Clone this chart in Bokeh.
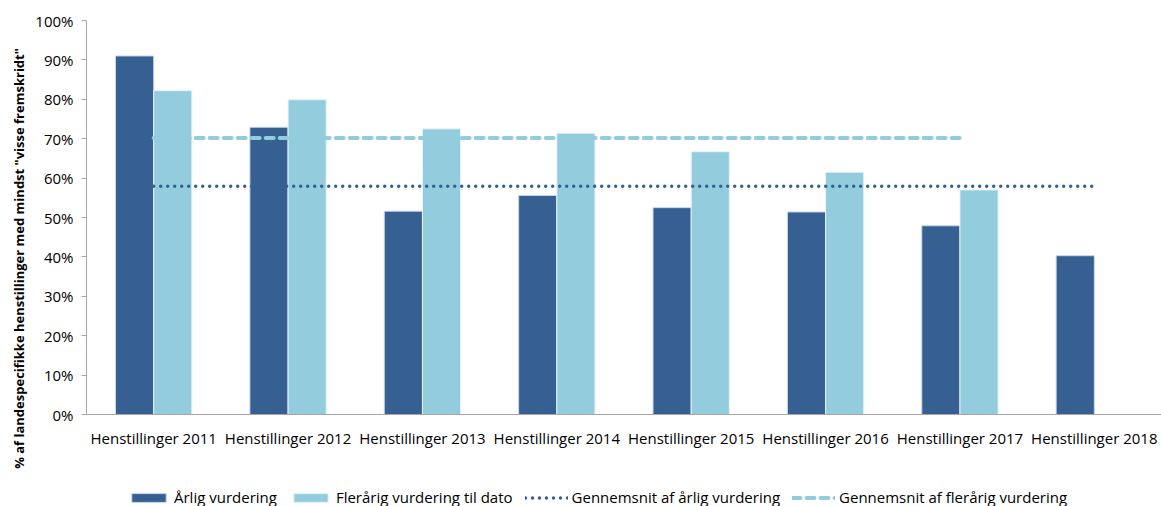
from math import pi
from bokeh.plotting import figure
from bokeh.layouts import row, column
from bokeh.models import (FactorRange, Range1d, ColumnDataSource, Legend, LegendItem,
                          Label, PrintfTickFormatter, FixedTicker)
from bokeh.transform import dodge
from bokeh.embed import file_html
from bokeh.resources import INLINE

categories = ["Henstillinger 2011", "Henstillinger 2012", "Henstillinger 2013",
              "Henstillinger 2014", "Henstillinger 2015", "Henstillinger 2016",
              "Henstillinger 2017", "Henstillinger 2018"]
annual = [91.0, 72.9, 51.6, 55.6, 52.5, 51.4, 47.9, 40.3]
multi_categories = categories[:7]
multi = [82.2, 79.9, 72.5, 71.4, 66.7, 61.5, 57.0]
avg_annual = [57.9, 57.9, 57.9, 57.9, 57.9, 57.9, 57.9, 57.9]
avg_multi = [70.2, 70.2, 70.2, 70.2, 70.2, 70.2, 70.2]
y_ticks = [0, 10, 20, 30, 40, 50, 60, 70, 80, 90, 100]
y_title = '% af landespecifikke henstillinger med mindst "visse fremskridt"'
series_names = ["Årlig vurdering", "Flerårig vurdering til dato",
                "Gennemsnit af årlig vurdering", "Gennemsnit af flerårig vurdering"]

DARK = "#376092"
LIGHT = "#93CDDD"
FONT = "Open Sans"
FS = "15px"

src_a = ColumnDataSource(dict(cat=categories, val=annual, avg=avg_annual))
src_m = ColumnDataSource(dict(cat=multi_categories, val=multi, avg=avg_multi))


def draw_series(fig):
    ra = fig.vbar(x=dodge("cat", -0.142, range=fig.x_range), top="val", width=0.284,
                  source=src_a, fill_color=DARK, line_color="#C9D6E6", line_width=1)
    rm = fig.vbar(x=dodge("cat", 0.142, range=fig.x_range), top="val", width=0.284,
                  source=src_m, fill_color=LIGHT, line_color="#E6F4F8", line_width=1)
    la = fig.line(x="cat", y="avg", source=src_a, line_color=DARK, line_width=3.5,
                  line_dash="0 7", line_cap="round")
    lm = fig.line(x="cat", y="avg", source=src_m, line_color=LIGHT, line_width=4,
                  line_dash="8 6", line_cap="round")
    return [ra, rm, la, lm]


# ---------------- main chart ----------------
p = figure(x_range=FactorRange(*categories, range_padding=0),
           y_range=Range1d(0, 100),
           width=1129, height=470, output_backend="svg", toolbar_location=None,
           min_border_left=54, min_border_right=0, min_border_top=20, min_border_bottom=56)
p.outline_line_color = None
p.xgrid.grid_line_color = None
p.ygrid.grid_line_color = None
draw_series(p)

p.yaxis.ticker = FixedTicker(ticks=y_ticks)
p.yaxis.formatter = PrintfTickFormatter(format="%d%%")
p.yaxis.minor_tick_line_color = None
p.yaxis.major_tick_in = 0
p.yaxis.major_tick_out = 5
p.yaxis.axis_line_color = "#A6A6A6"
p.yaxis.major_tick_line_color = "#A6A6A6"
p.yaxis.major_label_text_font = FONT
p.yaxis.major_label_text_font_size = FS
p.yaxis.major_label_text_color = "#000000"
p.yaxis.major_label_standoff = 8

p.xaxis.axis_line_color = "#A6A6A6"
p.xaxis.major_tick_line_color = None
p.xaxis.major_tick_in = 0
p.xaxis.major_tick_out = 0
p.xaxis.major_label_text_font = FONT
p.xaxis.major_label_text_font_size = FS
p.xaxis.major_label_text_color = "#000000"
p.xaxis.major_label_standoff = 13

# ---------------- y-axis title strip ----------------
yl = figure(width=32, height=506, output_backend="svg", toolbar_location=None,
            x_range=Range1d(0, 1), y_range=Range1d(0, 1),
            x_axis_location=None, y_axis_location=None,
            min_border_left=0, min_border_right=0, min_border_top=0, min_border_bottom=0)
yl.outline_line_color = None
yl.xgrid.grid_line_color = None
yl.ygrid.grid_line_color = None
yl.add_layout(Label(x=18, y=248, x_units="screen", y_units="screen", angle=pi / 2,
                    text=y_title, text_font=FONT, text_font_size="13px",
                    text_font_style="bold", text_color="#000000",
                    text_align="center", text_baseline="middle"))

# ---------------- legend strip (series drawn out of view, only legend shows) ----------------
lg = figure(width=1129, height=36, output_backend="svg", toolbar_location=None,
            x_range=FactorRange(*categories, range_padding=0), y_range=Range1d(1000, 1001),
            x_axis_location=None, y_axis_location=None,
            min_border_left=54, min_border_right=0, min_border_top=0, min_border_bottom=0)
lg.outline_line_color = None
lg.xgrid.grid_line_color = None
lg.ygrid.grid_line_color = None
legend_renderers = draw_series(lg)
legend = Legend(items=[LegendItem(label=n, renderers=[r])
                       for n, r in zip(series_names, legend_renderers)],
                orientation="horizontal", location=(41, -1))
legend.border_line_color = None
legend.background_fill_alpha = 0
legend.padding = 2
legend.margin = 0
legend.spacing = 12
legend.glyph_width = 43
legend.glyph_height = 11
legend.label_standoff = 4
legend.label_text_font = FONT
legend.label_text_font_size = FS
legend.label_text_color = "#000000"
lg.add_layout(legend, "center")

layout = row(yl, column(p, lg))
open("out.html", "w").write(file_html(layout, INLINE))
